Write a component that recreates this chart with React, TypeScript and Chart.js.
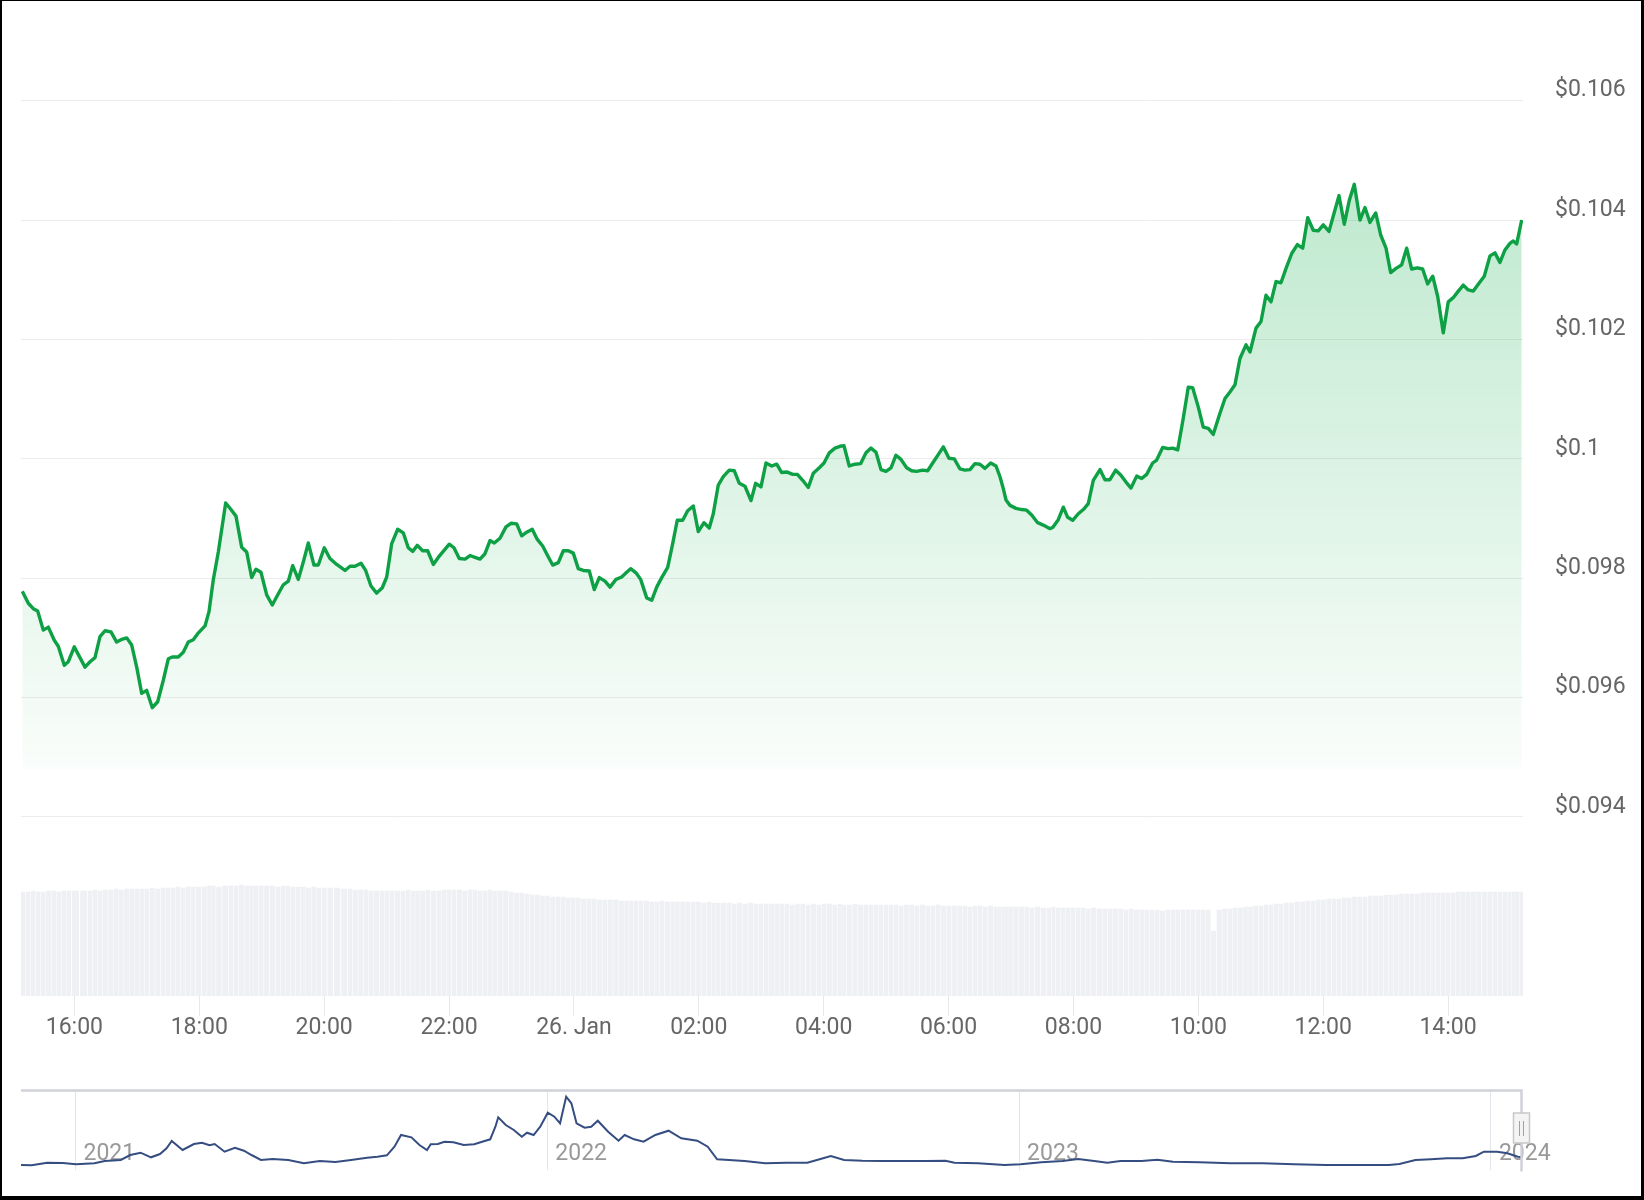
import React, { useEffect, useRef } from "react";
import { Chart, registerables } from "chart.js";

Chart.register(...registerables);
Chart.defaults.font.family = "Roboto";

// hours since 25 Jan 00:00 (24 = 26 Jan 00:00)
const times = [
  15.166, 15.262, 15.342, 15.412, 15.502, 15.582, 15.678, 15.742, 15.838, 15.902, 15.998,
  16.17, 16.25, 16.33, 16.41, 16.49, 16.586, 16.677, 16.746, 16.838, 16.918, 16.998,
  17.078, 17.158, 17.248, 17.334, 17.424, 17.504, 17.568, 17.664, 17.744, 17.824, 17.904, 17.975,
  18.092, 18.156, 18.224, 18.305, 18.423, 18.508, 18.588, 18.679, 18.759, 18.84, 18.908, 18.988,
  19.08, 19.169, 19.266, 19.346, 19.426, 19.496, 19.586, 19.666, 19.746, 19.837, 19.906, 20.002,
  20.093, 20.201, 20.334, 20.414, 20.494, 20.59, 20.665, 20.75, 20.841, 20.931, 21.002,
  21.082, 21.178, 21.267, 21.347, 21.418, 21.492, 21.578, 21.658, 21.748, 21.844, 21.924, 22.004,
  22.079, 22.164, 22.256, 22.336, 22.416, 22.496, 22.576, 22.656, 22.725, 22.816, 22.912, 22.992,
  23.084, 23.164, 23.244, 23.333, 23.414, 23.5, 23.574, 23.66, 23.75, 23.83, 23.91, 23.99,
  24.07, 24.15, 24.246, 24.326, 24.406, 24.498, 24.578, 24.674, 24.765, 24.845, 24.909, 24.994,
  25.069, 25.166, 25.246, 25.326, 25.406, 25.502, 25.582, 25.655, 25.742, 25.822, 25.912,
  25.992, 26.083, 26.168, 26.232, 26.312, 26.392, 26.488, 26.569, 26.649, 26.74, 26.836, 26.911, 26.996,
  27.076, 27.168, 27.248, 27.328, 27.408, 27.504, 27.578, 27.664, 27.754, 27.834, 27.93, 28.005,
  28.09, 28.181, 28.261, 28.325, 28.41, 28.502, 28.593, 28.678, 28.758, 28.838, 28.918, 28.998,
  29.078, 29.158, 29.238, 29.329, 29.409, 29.489, 29.585, 29.666, 29.746, 29.835, 29.916, 30.007,
  30.092, 30.183, 30.263, 30.343, 30.423, 30.503, 30.583, 30.675, 30.76, 30.824, 30.877, 30.92, 30.984,
  31.08, 31.171, 31.251, 31.331, 31.427, 31.517, 31.624, 31.668, 31.757, 31.838, 31.908, 31.988,
  32.078, 32.158, 32.238, 32.318, 32.425, 32.505, 32.585, 32.677, 32.757, 32.842, 32.922,
  33.013, 33.093, 33.173, 33.269, 33.333, 33.429, 33.519, 33.589, 33.67, 33.759, 33.839, 33.91, 33.999,
  34.079, 34.16, 34.24, 34.336, 34.427, 34.507, 34.587, 34.667, 34.764, 34.828, 34.924, 35.004,
  35.084, 35.164, 35.244, 35.324, 35.405, 35.496, 35.586, 35.672, 35.752, 35.841, 35.921, 36.001,
  36.093, 36.173, 36.253, 36.338, 36.418, 36.498, 36.589, 36.669, 36.749, 36.841, 36.921, 37.006,
  37.081, 37.166, 37.257, 37.337, 37.417, 37.507, 37.593, 37.673, 37.754, 37.834, 37.923, 38.003,
  38.083, 38.164, 38.244, 38.324, 38.404, 38.495, 38.58, 38.671, 38.751, 38.831, 38.911, 38.991, 39.044, 39.099, 39.179,
];

const prices = [
  0.09778, 0.09758, 0.09749, 0.09745, 0.09713, 0.09718, 0.09696, 0.09686, 0.09654, 0.0966, 0.09685,
  0.09651, 0.0966, 0.09667, 0.09702, 0.09712, 0.0971, 0.09693, 0.09697, 0.097, 0.09688, 0.09651,
  0.09607, 0.09612, 0.09583, 0.09593, 0.09629, 0.09665, 0.09668, 0.09668, 0.09676, 0.09693, 0.09697, 0.09707,
  0.0972, 0.09744, 0.09797, 0.09844, 0.09926, 0.09915, 0.09904, 0.09852, 0.09844, 0.09801, 0.09815, 0.0981,
  0.09772, 0.09755, 0.09774, 0.09789, 0.09795, 0.09821, 0.09798, 0.09827, 0.09859, 0.09822, 0.09822, 0.09851,
  0.09833, 0.09823, 0.09813, 0.0982, 0.0982, 0.09825, 0.09813, 0.09787, 0.09775, 0.09784, 0.09802,
  0.09858, 0.09882, 0.09876, 0.09851, 0.09845, 0.09855, 0.09846, 0.09846, 0.09823, 0.09837, 0.09847, 0.09857,
  0.09851, 0.09833, 0.09832, 0.09838, 0.09835, 0.09832, 0.09841, 0.09863, 0.09859, 0.09867, 0.09886, 0.09892,
  0.09891, 0.09871, 0.09877, 0.09882, 0.09865, 0.09854, 0.09839, 0.09822, 0.09826, 0.09846, 0.09846, 0.09842,
  0.09816, 0.09813, 0.09812, 0.09781, 0.09801, 0.09795, 0.09785, 0.09798, 0.09802, 0.0981, 0.09816, 0.09809,
  0.09798, 0.09767, 0.09763, 0.09785, 0.09801, 0.09818, 0.09858, 0.09897, 0.09897, 0.09913, 0.09921,
  0.09878, 0.09893, 0.09884, 0.09908, 0.09956, 0.0997, 0.09981, 0.0998, 0.09959, 0.09954, 0.0993, 0.09959, 0.09953,
  0.09993, 0.09988, 0.09991, 0.09977, 0.09978, 0.09974, 0.09974, 0.09964, 0.09952, 0.09976, 0.09985, 0.09993,
  0.1001, 0.10018, 0.10021, 0.10022, 0.09988, 0.09991, 0.09992, 0.1001, 0.10018, 0.10011, 0.09982, 0.09979,
  0.09985, 0.10006, 0.09999, 0.09985, 0.0998, 0.09979, 0.09981, 0.0998, 0.09993, 0.10007, 0.1002, 0.10001,
  0.1, 0.09983, 0.09981, 0.09982, 0.09992, 0.09991, 0.09984, 0.09993, 0.09988, 0.0997, 0.0995, 0.09931, 0.09922,
  0.09917, 0.09915, 0.09914, 0.09906, 0.09893, 0.09889, 0.09883, 0.09885, 0.09898, 0.09919, 0.09902, 0.09897,
  0.09908, 0.09915, 0.09925, 0.09964, 0.09982, 0.09965, 0.09965, 0.09981, 0.09973, 0.09961, 0.09951,
  0.09971, 0.09967, 0.09974, 0.09993, 0.09998, 0.10019, 0.10017, 0.10018, 0.10015, 0.10068, 0.1012, 0.10119, 0.10087,
  0.10053, 0.10051, 0.10041, 0.10073, 0.10101, 0.10112, 0.10124, 0.10168, 0.10191, 0.10179, 0.10219, 0.1023,
  0.10274, 0.10263, 0.10297, 0.10295, 0.10319, 0.10344, 0.10359, 0.10353, 0.10404, 0.10383, 0.10382, 0.10392,
  0.10381, 0.10411, 0.10441, 0.10393, 0.10433, 0.1046, 0.104, 0.10421, 0.10396, 0.10412, 0.10375, 0.10353,
  0.10312, 0.10319, 0.10325, 0.10353, 0.10318, 0.1032, 0.10318, 0.10293, 0.10306, 0.10272, 0.10211, 0.10263,
  0.1027, 0.10281, 0.10291, 0.10283, 0.10281, 0.10294, 0.10306, 0.1034, 0.10345, 0.10329, 0.1035, 0.10361, 0.10365, 0.1036, 0.104,
];

// relative volume per bar
const volumes = [
  104, 104, 105, 104, 104, 105, 105, 104, 105, 105, 105,
  105, 105, 106, 105, 106, 106, 107, 106, 107, 107, 107,
  107, 107, 108, 107, 108, 108, 108, 109, 108, 109, 109, 109,
  109, 110, 110, 109, 110, 110, 110, 111, 110, 110, 110, 110,
  110, 110, 109, 110, 110, 109, 109, 109, 108, 109, 108, 108,
  108, 108, 107, 107, 106, 106, 106, 105, 105, 105, 105,
  105, 105, 105, 106, 105, 105, 105, 106, 105, 105, 106, 106,
  106, 106, 105, 106, 106, 105, 105, 106, 105, 105, 105, 104,
  103, 103, 102, 101, 101, 100, 100, 99, 99, 99, 98, 98,
  98, 97, 97, 97, 96, 96, 96, 96, 95, 95, 95, 95,
  95, 95, 94, 94, 95, 94, 94, 94, 94, 94, 94,
  94, 93, 94, 93, 93, 93, 93, 92, 93, 92, 93, 92, 92,
  92, 92, 92, 92, 92, 91, 92, 92, 91, 92, 91, 92,
  92, 91, 92, 91, 91, 92, 91, 91, 91, 91, 91, 91,
  91, 91, 90, 91, 91, 90, 91, 90, 90, 91, 90, 90,
  90, 90, 90, 89, 90, 90, 89, 90, 89, 89, 89, 89, 89,
  89, 89, 89, 88, 89, 88, 88, 89, 88, 88, 88, 88,
  88, 88, 87, 88, 87, 87, 87, 87, 87, 86, 87,
  86, 86, 86, 86, 86, 85, 86, 86, 86, 86, 86, 86, 86,
  86, 86, 65, 86, 87, 87, 88, 88, 89, 89, 90, 90,
  91, 91, 92, 92, 93, 93, 94, 94, 95, 95, 96, 96,
  97, 97, 97, 98, 98, 99, 99, 99, 100, 100, 100, 101,
  101, 101, 102, 102, 102, 102, 103, 103, 103, 103, 103, 103,
  103, 104, 104, 104, 104, 104, 104, 104, 104, 104, 104, 104, 104, 104, 104,
];

const priceTicks = [0.094, 0.096, 0.098, 0.1, 0.102, 0.104, 0.106];
const timeTicks = [16, 18, 20, 22, 24, 26, 28, 30, 32, 34, 36, 38];

// navigator: fractional year, price
const navYears = [
  2020.882, 2020.907, 2020.94, 2020.973, 2021.001, 2021.04, 2021.062, 2021.096, 2021.116, 2021.138,
  2021.16, 2021.179, 2021.193, 2021.204, 2021.227, 2021.251, 2021.268, 2021.284, 2021.295, 2021.316,
  2021.338, 2021.357, 2021.373, 2021.393, 2021.418, 2021.451, 2021.484, 2021.518, 2021.551, 2021.584,
  2021.618, 2021.64, 2021.66, 2021.676, 2021.69, 2021.712, 2021.729, 2021.745, 2021.753, 2021.768,
  2021.782, 2021.801, 2021.823, 2021.845, 2021.862, 2021.879, 2021.89, 2021.896, 2021.912, 2021.929,
  2021.946, 2021.957, 2021.971, 2021.985, 2022.001, 2022.015, 2022.027, 2022.04, 2022.051, 2022.062,
  2022.079, 2022.093, 2022.107, 2022.129, 2022.151, 2022.164, 2022.184, 2022.204, 2022.229, 2022.257,
  2022.284, 2022.318, 2022.34, 2022.36, 2022.385, 2022.418, 2022.462, 2022.507, 2022.551, 2022.579,
  2022.601, 2022.629, 2022.668, 2022.712, 2022.757, 2022.802, 2022.844, 2022.863, 2022.913, 2022.969,
  2023.003, 2023.047, 2023.092, 2023.125, 2023.159, 2023.187, 2023.215, 2023.259, 2023.293, 2023.326,
  2023.382, 2023.449, 2023.516, 2023.583, 2023.65, 2023.717, 2023.784, 2023.806, 2023.84, 2023.873,
  2023.907, 2023.94, 2023.968, 2023.985, 2024.013, 2024.035, 2024.057, 2024.066,
];
const navPrices = [
  0.0472, 0.045, 0.0638, 0.0616, 0.0522, 0.0594, 0.076, 0.0832, 0.1192, 0.1358,
  0.1026, 0.1264, 0.1674, 0.22, 0.1552, 0.1984, 0.2078, 0.189, 0.1984, 0.143,
  0.1718, 0.1502, 0.1192, 0.0832, 0.0904, 0.0832, 0.0594, 0.076, 0.0688, 0.0832,
  0.0998, 0.107, 0.117, 0.179, 0.2632, 0.2466, 0.1912, 0.1552, 0.1962, 0.1984,
  0.215, 0.2106, 0.1912, 0.1962, 0.215, 0.2322, 0.323, 0.3906, 0.3352, 0.2992,
  0.251, 0.2798, 0.2632, 0.323, 0.4238, 0.395, 0.3474, 0.539, 0.4914, 0.3474,
  0.3158, 0.323, 0.3662, 0.287, 0.2222, 0.2632, 0.2322, 0.215, 0.2632, 0.2942,
  0.2394, 0.2222, 0.179, 0.0882, 0.0832, 0.076, 0.0594, 0.0638, 0.0638, 0.0904,
  0.112, 0.0832, 0.0782, 0.076, 0.076, 0.076, 0.0782, 0.0638, 0.0594, 0.0472,
  0.0522, 0.0666, 0.076, 0.0904, 0.076, 0.0638, 0.076, 0.076, 0.0854, 0.071,
  0.0666, 0.0594, 0.0594, 0.0522, 0.0472, 0.0472, 0.0472, 0.0544, 0.0832, 0.0882,
  0.0954, 0.0954, 0.112, 0.143, 0.143, 0.1314, 0.107, 0.1048,
];
const navTicks = [2021, 2022, 2023, 2024];

const LINE_COLOR = "#0ea045";

function fmtTime(v: number): string {
  const h = ((v % 24) + 24) % 24;
  if (h === 0) return "26. Jan";
  return (h < 10 ? "0" : "") + h + ":00";
}

// year labels sit inside the navigator plot, at the x scale's tick positions
const navLabels = {
  id: "navLabels",
  beforeDatasetsDraw(chart: any) {
    const { ctx, chartArea: a } = chart;
    const xs = chart.scales.x;
    ctx.save();
    ctx.font = "23px Roboto";
    ctx.fillStyle = "#999";
    ctx.textAlign = "left";
    ctx.textBaseline = "middle";
    xs.ticks.forEach((t: any) => {
      ctx.fillText(String(t.value), xs.getPixelForValue(t.value) + 8, a.bottom - 16);
    });
    ctx.restore();
  },
};

const navDecor = {
  id: "navDecor",
  afterDraw(chart: any) {
    const { ctx, chartArea: a } = chart;
    ctx.save();
    ctx.strokeStyle = "#d0d2da";
    ctx.lineWidth = 2.5;
    ctx.beginPath();
    ctx.moveTo(a.left, a.top);
    ctx.lineTo(a.right - 1.5, a.top);
    ctx.lineTo(a.right - 1.5, a.bottom + 1.5);
    ctx.stroke();
    // handle
    const hx = a.right - 9.5;
    const hy = a.top + 22.5;
    ctx.fillStyle = "#f4f4f4";
    ctx.strokeStyle = "#c8c8c8";
    ctx.lineWidth = 1.5;
    ctx.beginPath();
    ctx.rect(hx, hy, 16, 30);
    ctx.fill();
    ctx.stroke();
    ctx.strokeStyle = "#a0a0a0";
    ctx.lineWidth = 1;
    ctx.beginPath();
    ctx.moveTo(hx + 6, hy + 8);
    ctx.lineTo(hx + 6, hy + 23);
    ctx.moveTo(hx + 10, hy + 8);
    ctx.lineTo(hx + 10, hy + 23);
    ctx.stroke();
    ctx.restore();
  },
};

export default function App() {
  const mainRef = useRef<HTMLCanvasElement>(null);
  const navRef = useRef<HTMLCanvasElement>(null);

  useEffect(() => {
    document.body.style.margin = "0";
    const axisFont = { family: "Roboto", size: 23 };

    const main = new Chart(mainRef.current as HTMLCanvasElement, {
      type: "line",
      data: {
        datasets: [
          {
            type: "line",
            data: times.map((t, i) => ({ x: t, y: prices[i] })),
            yAxisID: "y",
            borderColor: LINE_COLOR,
            borderWidth: 3.4,
            borderJoinStyle: "round",
            pointRadius: 0,
            tension: 0,
            fill: { target: { value: 0.09479 } },
            backgroundColor: (c: any) => {
              const chart = c.chart;
              const area = chart.chartArea;
              if (!area || !chart.scales.y) return "rgba(0,168,62,0.1)";
              const y = chart.scales.y;
              const g = chart.ctx.createLinearGradient(0, y.getPixelForValue(0.1046), 0, y.getPixelForValue(0.09479));
              g.addColorStop(0, "rgba(0,168,62,0.25)");
              g.addColorStop(1, "rgba(0,168,62,0.02)");
              return g;
            },
            order: 0,
          } as any,
          {
            type: "bar",
            data: times.map((t, i) => ({ x: t, y: volumes[i] })),
            yAxisID: "y2",
            backgroundColor: "#eef0f3",
            barThickness: "flex",
            barPercentage: 0.78,
            categoryPercentage: 1,
            order: 1,
          } as any,
        ],
      },
      options: {
        responsive: false,
        animation: false,
        devicePixelRatio: 1,
        layout: { padding: { left: 21, top: 100.7, right: 0, bottom: 0 } },
        plugins: { legend: { display: false }, tooltip: { enabled: false } },
        scales: {
          x: {
            type: "linear",
            min: 15.145,
            max: 39.2,
            offset: false,
            afterBuildTicks: (s: any) => {
              s.ticks = timeTicks.map((v) => ({ value: v }));
            },
            afterFit: (s: any) => {
              s.height = 64;
            },
            grid: { drawOnChartArea: false, drawTicks: true, tickLength: 20, tickColor: "#e6e8ec", offset: false },
            border: { display: false },
            ticks: {
              font: axisFont,
              color: "#666",
              padding: -2,
              maxRotation: 0,
              autoSkip: false,
              callback: (v: any) => fmtTime(Number(v)),
            },
          },
          y: {
            type: "linear",
            position: "right",
            min: 0.091,
            max: 0.106,
            afterBuildTicks: (s: any) => {
              s.ticks = priceTicks.map((v) => ({ value: v }));
            },
            afterFit: (s: any) => {
              s.width = 121;
            },
            grid: { color: "#ececec", drawTicks: false },
            border: { display: false },
            ticks: {
              font: axisFont,
              color: "#666",
              padding: 32,
              labelOffset: -10,
              callback: (v: any) => "$" + parseFloat(Number(v).toFixed(3)),
            },
          },
          y2: { type: "linear", display: false, min: 0, max: 895.3 },
        },
      } as any,
    });

    const nav = new Chart(navRef.current as HTMLCanvasElement, {
      type: "line",
      data: {
        datasets: [
          {
            data: navYears.map((t, i) => ({ x: t, y: navPrices[i] })),
            borderColor: "#354d80",
            borderWidth: 2,
            pointRadius: 0,
            tension: 0,
            fill: false,
          } as any,
        ],
      },
      options: {
        responsive: false,
        animation: false,
        devicePixelRatio: 1,
        layout: { padding: { left: 21, right: 121, top: 10.5, bottom: 0 } },
        plugins: { legend: { display: false }, tooltip: { enabled: false } },
        scales: {
          x: {
            type: "linear",
            min: 2020.8845,
            max: 2024.068,
            afterBuildTicks: (s: any) => {
              s.ticks = navTicks.map((v) => ({ value: v }));
            },
            afterFit: (s: any) => {
              s.height = 30;
            },
            grid: { color: "#e3e5ea", drawTicks: false },
            border: { display: false },
            ticks: { display: false },
          },
          y: { display: false, min: 0.0112, max: 0.5836 },
        },
      } as any,
      plugins: [navLabels as any, navDecor as any],
    });

    return () => {
      main.destroy();
      nav.destroy();
    };
  }, []);

  return (
    <div
      style={{
        position: "fixed",
        left: 0,
        top: 0,
        width: 1644,
        height: 1200,
        background: "#fff",
        overflow: "hidden",
      }}
    >
      <canvas
        ref={mainRef}
        width={1644}
        height={1060}
        style={{ position: "absolute", left: 0, top: 0, width: 1644, height: 1060 }}
      />
      <canvas
        ref={navRef}
        width={1644}
        height={120}
        style={{ position: "absolute", left: 0, top: 1080, width: 1644, height: 120 }}
      />
      <div
        style={{
          position: "absolute",
          left: 0,
          top: 0,
          width: 1644,
          height: 1200,
          boxSizing: "border-box",
          borderStyle: "solid",
          borderColor: "#000",
          borderWidth: "1px 3px 4px 2px",
          pointerEvents: "none",
        }}
      />
    </div>
  );
}
